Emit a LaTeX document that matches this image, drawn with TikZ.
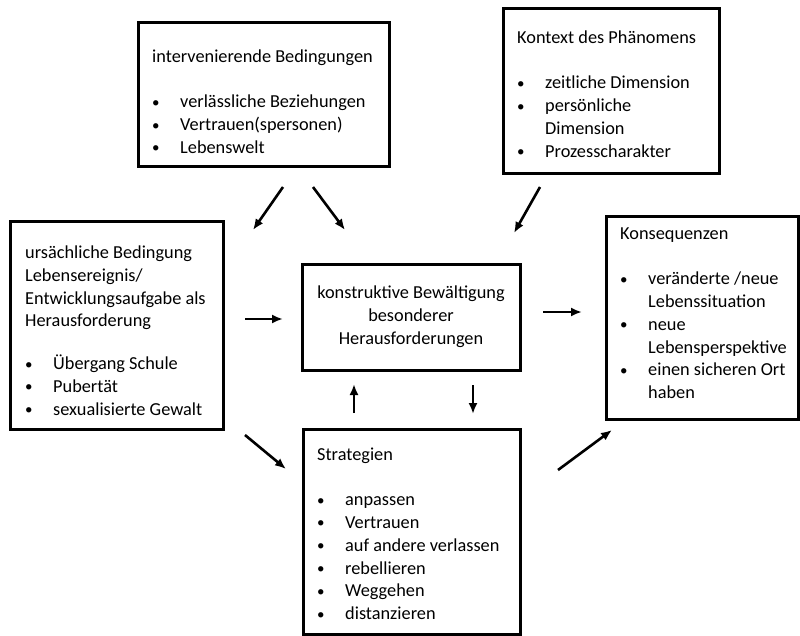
\documentclass[tikz,border=0pt]{standalone}
\usepackage{fontspec}
\setmainfont{Carlito}
\usetikzlibrary{arrows.meta,positioning}

\newcommand{\itm}{\makebox[28pt][l]{\raisebox{0.5pt}{\fontsize{15}{15}\selectfont\textbullet}}}
\newcommand{\cnt}{\hspace*{28pt}}

\begin{document}
\begin{tikzpicture}
    \tikzset{x=1pt,y=-1pt,every path/.style={>={Latex[length=11pt,width=9pt]}},
      box style/.style={draw,line width=3,rectangle,inner sep=0,anchor=north west},
      text style/.style={inner sep=0,anchor=north west,align=left,font=\fontsize{18.3}{22.8}\selectfont},
      arrow style/.style={line width=2.6,->}}
    \useasboundingbox (0,0) rectangle (800,635);
    % boxes
    \node [box style,minimum width=251,minimum height=144]   (interv) at (137,21)  {};
    \node [box style,minimum width=216,minimum height=165]   (kontext) at (502,7)  {};
    \node [box style,minimum width=213,minimum height=208]   (ursache) at (9,220)  {};
    \node [box style,minimum width=218,minimum height=106,anchor=center,align=center,
           font=\fontsize{18.3}{22.8}\selectfont]   (bewaelt) at (411,317)
           {konstruktive Bewältigung\\besonderer\\Herausforderungen};
    \node [box style,minimum width=192,minimum height=203]   (konseq) at (605,215)  {};
    \node [box style,minimum width=217,minimum height=205]   (strat) at (302,428)  {};
    % texts
    \node [text style] (intervtxt) at (152,50)
      {intervenierende Bedingungen\\[22pt]
       \itm verlässliche Beziehungen\\
       \itm Vertrauen(spersonen)\\
       \itm Lebenswelt};
    \node [text style] (kontexttxt) at (517,31)
      {Kontext des Phänomens\\[22pt]
       \itm zeitliche Dimension\\
       \itm persönliche\\
       \cnt Dimension\\
       \itm Prozesscharakter};
    \node [text style] (ursachetxt) at (25,245.5)
      {ursächliche Bedingung\\
       Lebensereignis/\\
       Entwicklungsaufgabe als\\
       Herausforderung\\[20pt]
       \itm Übergang Schule\\
       \itm Pubertät\\
       \itm sexualisierte Gewalt};
    \node [text style] (konseqtxt) at (620,228)
      {Konsequenzen\\[22pt]
       \itm veränderte /neue\\
       \cnt Lebenssituation\\
       \itm neue\\
       \cnt Lebensperspektive\\
       \itm einen sicheren Ort\\
       \cnt haben};
    \node [text style] (strattxt) at (317,448)
      {Strategien\\[22pt]
       \itm anpassen\\
       \itm Vertrauen\\
       \itm auf andere verlassen\\
       \itm rebellieren\\
       \itm Weggehen\\
       \itm distanzieren};
    % arrow ends
    \coordinate (a1s) at (283,187);  \coordinate (a1e) at (253,230);
    \coordinate (a2s) at (313,187);  \coordinate (a2e) at (345,230);
    \coordinate (a3s) at (540,187);  \coordinate (a3e) at (514,233);
    \coordinate (a4s) at (245,319);  \coordinate (a4e) at (283,319);
    \coordinate (a5s) at (543,312);  \coordinate (a5e) at (582,312);
    \coordinate (a6s) at (354,413);  \coordinate (a6e) at (354,384);
    \coordinate (a7s) at (473,385);  \coordinate (a7e) at (473,414);
    \coordinate (a8s) at (245,435);  \coordinate (a8e) at (286,469);
    \coordinate (a9s) at (558,470);  \coordinate (a9e) at (612,430);
    \draw[arrow style] (a1s) -- (a1e);
    \draw[arrow style] (a2s) -- (a2e);
    \draw[arrow style] (a3s) -- (a3e);
    \draw[arrow style] (a4s) -- (a4e);
    \draw[arrow style] (a5s) -- (a5e);
    \draw[arrow style] (a6s) -- (a6e);
    \draw[arrow style] (a7s) -- (a7e);
    \draw[arrow style] (a8s) -- (a8e);
    \draw[arrow style] (a9s) -- (a9e);
\end{tikzpicture}
\end{document}
